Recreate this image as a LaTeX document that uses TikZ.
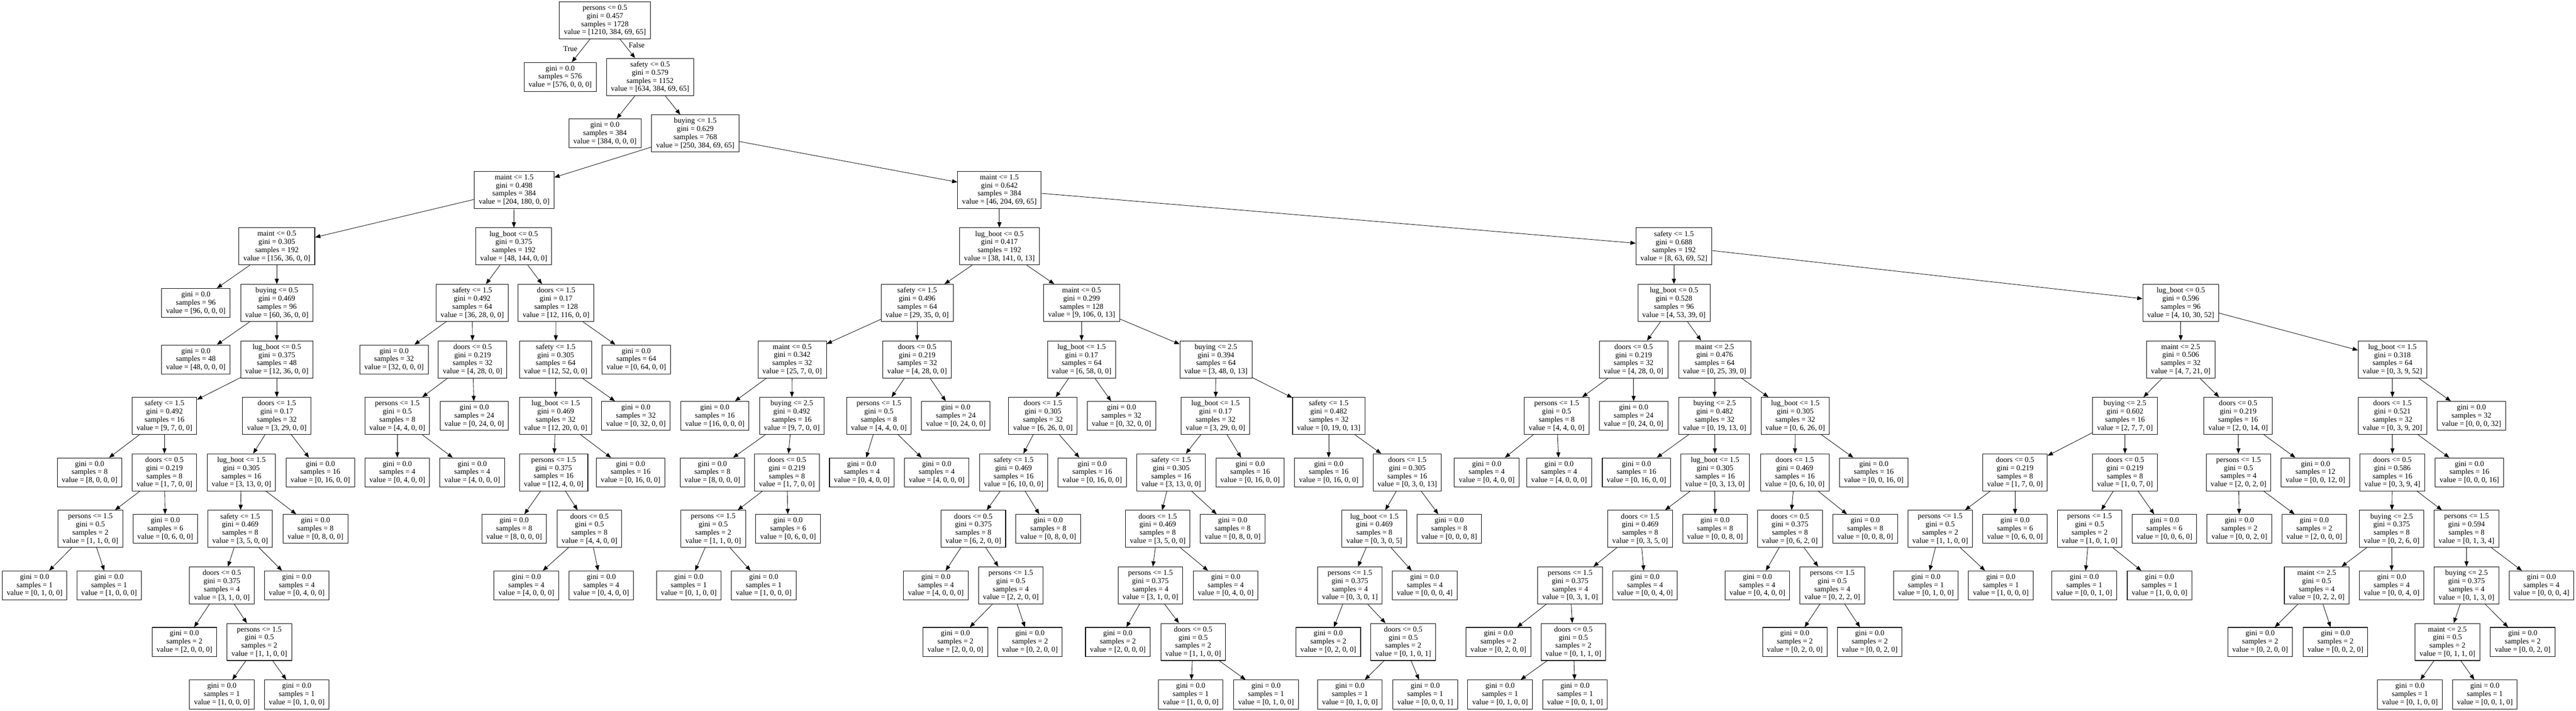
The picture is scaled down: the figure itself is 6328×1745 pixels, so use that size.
\documentclass[tikz,border=0pt]{standalone}
\usepackage{fontspec}
\setmainfont{Liberation Serif}
\usetikzlibrary{arrows.meta}
\newcommand{\SplitTxt}[4]{#1\\gini = #2\\samples = #3\\value = [#4]}
\newcommand{\LeafTxt}[2]{gini = 0.0\\samples = #1\\value = [#2]}
\def\yA{-50}
\def\yB{-188.7}
\def\yC{-327.4}
\def\yD{-466.1}
\def\yE{-604.8}
\def\yF{-743.5}
\def\yG{-882.2}
\def\yH{-1020.9}
\def\yI{-1159.6}
\def\yJ{-1298.3}
\def\yK{-1437}
\def\yL{-1575.7}
\def\yM{-1704.7}
\begin{document}
\begin{tikzpicture}[x=1pt,y=1pt,
  box/.style={draw=black, line width=1.3pt, rectangle, align=center, inner xsep=11pt, inner ysep=0pt,
    font=\fontsize{18.5}{20}\selectfont},
  split/.style={box, minimum height=91pt},
  leaf/.style={box, minimum height=71pt},
  edge/.style={draw=black, line width=1.05pt, -{Triangle[length=13pt,width=10pt]}},
  elabel/.style={font=\fontsize{18.5}{20}\selectfont, inner sep=0pt}]
\fill[white] (0,0) rectangle (6328,-1745);
\useasboundingbox (0,0) rectangle (6328,-1745);
\node[split] (n0) at (1486,\yA) {\SplitTxt{persons <= 0.5}{0.457}{1728}{1210, 384, 69, 65}};
\node[leaf] (n1) at (1376,\yB) {\LeafTxt{576}{576, 0, 0, 0}};
\node[split] (n2) at (1597,\yB) {\SplitTxt{safety <= 0.5}{0.579}{1152}{634, 384, 69, 65}};
\node[leaf] (n3) at (1486,\yC) {\LeafTxt{384}{384, 0, 0, 0}};
\node[split] (n4) at (1708,\yC) {\SplitTxt{buying <= 1.5}{0.629}{768}{250, 384, 69, 65}};
% subtree A
\node[split] (n5) at (1263,\yD) {\SplitTxt{maint <= 1.5}{0.498}{384}{204, 180, 0, 0}};
\node[split] (n6) at (680,\yE) {\SplitTxt{maint <= 0.5}{0.305}{192}{156, 36, 0, 0}};
\node[leaf] (n7) at (481,\yF) {\LeafTxt{96}{96, 0, 0, 0}};
\node[split] (n8) at (680,\yF) {\SplitTxt{buying <= 0.5}{0.469}{96}{60, 36, 0, 0}};
\node[leaf] (n9) at (481,\yG) {\LeafTxt{48}{48, 0, 0, 0}};
\node[split] (n10) at (680,\yG) {\SplitTxt{lug\_boot <= 0.5}{0.375}{48}{12, 36, 0, 0}};
\node[split] (n11) at (404,\yH) {\SplitTxt{safety <= 1.5}{0.492}{16}{9, 7, 0, 0}};
\node[leaf] (n12) at (220,\yI) {\LeafTxt{8}{8, 0, 0, 0}};
\node[split] (n13) at (404,\yI) {\SplitTxt{doors <= 0.5}{0.219}{8}{1, 7, 0, 0}};
\node[split] (n14) at (222,\yJ) {\SplitTxt{persons <= 1.5}{0.5}{2}{1, 1, 0, 0}};
\node[leaf] (n15) at (85,\yK) {\LeafTxt{1}{0, 1, 0, 0}};
\node[leaf] (n16) at (268,\yK) {\LeafTxt{1}{1, 0, 0, 0}};
\node[leaf] (n17) at (406,\yJ) {\LeafTxt{6}{0, 6, 0, 0}};
\node[split] (n18) at (680,\yH) {\SplitTxt{doors <= 1.5}{0.17}{32}{3, 29, 0, 0}};
\node[split] (n19) at (593,\yI) {\SplitTxt{lug\_boot <= 1.5}{0.305}{16}{3, 13, 0, 0}};
\node[split] (n20) at (590,\yJ) {\SplitTxt{safety <= 1.5}{0.469}{8}{3, 5, 0, 0}};
\node[split] (n21) at (545,\yK) {\SplitTxt{doors <= 0.5}{0.375}{4}{3, 1, 0, 0}};
\node[leaf] (n22) at (453,\yL) {\LeafTxt{2}{2, 0, 0, 0}};
\node[split] (n23) at (637,\yL) {\SplitTxt{persons <= 1.5}{0.5}{2}{1, 1, 0, 0}};
\node[leaf] (n24) at (545,\yM) {\LeafTxt{1}{1, 0, 0, 0}};
\node[leaf] (n25) at (729,\yM) {\LeafTxt{1}{0, 1, 0, 0}};
\node[leaf] (n26) at (729,\yK) {\LeafTxt{4}{0, 4, 0, 0}};
\node[leaf] (n27) at (775,\yJ) {\LeafTxt{8}{0, 8, 0, 0}};
\node[leaf] (n28) at (787,\yI) {\LeafTxt{16}{0, 16, 0, 0}};
\node[split] (n29) at (1262,\yE) {\SplitTxt{lug\_boot <= 0.5}{0.375}{192}{48, 144, 0, 0}};
\node[split] (n30) at (1160,\yF) {\SplitTxt{safety <= 1.5}{0.492}{64}{36, 28, 0, 0}};
\node[leaf] (n31) at (968,\yG) {\LeafTxt{32}{32, 0, 0, 0}};
\node[split] (n32) at (1161,\yG) {\SplitTxt{doors <= 0.5}{0.219}{32}{4, 28, 0, 0}};
\node[split] (n33) at (976,\yH) {\SplitTxt{persons <= 1.5}{0.5}{8}{4, 4, 0, 0}};
\node[leaf] (n34) at (976,\yI) {\LeafTxt{4}{0, 4, 0, 0}};
\node[leaf] (n35) at (1160,\yI) {\LeafTxt{4}{4, 0, 0, 0}};
\node[leaf] (n36) at (1165,\yH) {\LeafTxt{24}{0, 24, 0, 0}};
\node[split] (n37) at (1366,\yF) {\SplitTxt{doors <= 1.5}{0.17}{128}{12, 116, 0, 0}};
\node[split] (n38) at (1365,\yG) {\SplitTxt{safety <= 1.5}{0.305}{64}{12, 52, 0, 0}};
\node[split] (n39) at (1365,\yH) {\SplitTxt{lug\_boot <= 1.5}{0.469}{32}{12, 20, 0, 0}};
\node[split] (n40) at (1360,\yI) {\SplitTxt{persons <= 1.5}{0.375}{16}{12, 4, 0, 0}};
\node[leaf] (n41) at (1263,\yJ) {\LeafTxt{8}{8, 0, 0, 0}};
\node[split] (n42) at (1448,\yJ) {\SplitTxt{doors <= 0.5}{0.5}{8}{4, 4, 0, 0}};
\node[leaf] (n43) at (1293,\yK) {\LeafTxt{4}{4, 0, 0, 0}};
\node[leaf] (n44) at (1477,\yK) {\LeafTxt{4}{0, 4, 0, 0}};
\node[leaf] (n45) at (1549,\yI) {\LeafTxt{16}{0, 16, 0, 0}};
\node[leaf] (n46) at (1562,\yH) {\LeafTxt{32}{0, 32, 0, 0}};
\node[leaf] (n47) at (1563,\yG) {\LeafTxt{64}{0, 64, 0, 0}};
% subtree B
\node[split] (n48) at (2455,\yD) {\SplitTxt{maint <= 1.5}{0.642}{384}{46, 204, 69, 65}};
\node[split] (n49) at (2455,\yE) {\SplitTxt{lug\_boot <= 0.5}{0.417}{192}{38, 141, 0, 13}};
\node[split] (n50) at (2253,\yF) {\SplitTxt{safety <= 1.5}{0.496}{64}{29, 35, 0, 0}};
\node[split] (n51) at (1946,\yG) {\SplitTxt{maint <= 0.5}{0.342}{32}{25, 7, 0, 0}};
\node[leaf] (n52) at (1756,\yH) {\LeafTxt{16}{16, 0, 0, 0}};
\node[split] (n53) at (1945,\yH) {\SplitTxt{buying <= 2.5}{0.492}{16}{9, 7, 0, 0}};
\node[leaf] (n54) at (1750,\yI) {\LeafTxt{8}{8, 0, 0, 0}};
\node[split] (n55) at (1933,\yI) {\SplitTxt{doors <= 0.5}{0.219}{8}{1, 7, 0, 0}};
\node[split] (n56) at (1752,\yJ) {\SplitTxt{persons <= 1.5}{0.5}{2}{1, 1, 0, 0}};
\node[leaf] (n57) at (1692,\yK) {\LeafTxt{1}{0, 1, 0, 0}};
\node[leaf] (n58) at (1876,\yK) {\LeafTxt{1}{1, 0, 0, 0}};
\node[leaf] (n59) at (1936,\yJ) {\LeafTxt{6}{0, 6, 0, 0}};
\node[split] (n60) at (2253,\yG) {\SplitTxt{doors <= 0.5}{0.219}{32}{4, 28, 0, 0}};
\node[split] (n61) at (2159,\yH) {\SplitTxt{persons <= 1.5}{0.5}{8}{4, 4, 0, 0}};
\node[leaf] (n62) at (2117,\yI) {\LeafTxt{4}{0, 4, 0, 0}};
\node[leaf] (n63) at (2301,\yI) {\LeafTxt{4}{4, 0, 0, 0}};
\node[leaf] (n64) at (2348,\yH) {\LeafTxt{24}{0, 24, 0, 0}};
\node[split] (n65) at (2657,\yF) {\SplitTxt{maint <= 0.5}{0.299}{128}{9, 106, 0, 13}};
\node[split] (n66) at (2657,\yG) {\SplitTxt{lug\_boot <= 1.5}{0.17}{64}{6, 58, 0, 0}};
\node[split] (n67) at (2562,\yH) {\SplitTxt{doors <= 1.5}{0.305}{32}{6, 26, 0, 0}};
\node[split] (n68) at (2490,\yI) {\SplitTxt{safety <= 1.5}{0.469}{16}{6, 10, 0, 0}};
\node[split] (n69) at (2391,\yJ) {\SplitTxt{doors <= 0.5}{0.375}{8}{6, 2, 0, 0}};
\node[leaf] (n70) at (2299,\yK) {\LeafTxt{4}{4, 0, 0, 0}};
\node[split] (n71) at (2483,\yK) {\SplitTxt{persons <= 1.5}{0.5}{4}{2, 2, 0, 0}};
\node[leaf] (n72) at (2347,\yL) {\LeafTxt{2}{2, 0, 0, 0}};
\node[leaf] (n73) at (2530,\yL) {\LeafTxt{2}{0, 2, 0, 0}};
\node[leaf] (n74) at (2575,\yJ) {\LeafTxt{8}{0, 8, 0, 0}};
\node[leaf] (n75) at (2683,\yI) {\LeafTxt{16}{0, 16, 0, 0}};
\node[leaf] (n76) at (2755,\yH) {\LeafTxt{32}{0, 32, 0, 0}};
\node[split] (n77) at (2987,\yG) {\SplitTxt{buying <= 2.5}{0.394}{64}{3, 48, 0, 13}};
\node[split] (n78) at (2986,\yH) {\SplitTxt{lug\_boot <= 1.5}{0.17}{32}{3, 29, 0, 0}};
\node[split] (n79) at (2877,\yI) {\SplitTxt{safety <= 1.5}{0.305}{16}{3, 13, 0, 0}};
\node[split] (n80) at (2844,\yJ) {\SplitTxt{doors <= 1.5}{0.469}{8}{3, 5, 0, 0}};
\node[split] (n81) at (2826,\yK) {\SplitTxt{persons <= 1.5}{0.375}{4}{3, 1, 0, 0}};
\node[leaf] (n82) at (2746,\yL) {\LeafTxt{2}{2, 0, 0, 0}};
\node[split] (n83) at (2931,\yL) {\SplitTxt{doors <= 0.5}{0.5}{2}{1, 1, 0, 0}};
\node[leaf] (n84) at (2925,\yM) {\LeafTxt{1}{1, 0, 0, 0}};
\node[leaf] (n85) at (3110,\yM) {\LeafTxt{1}{0, 1, 0, 0}};
\node[leaf] (n86) at (3011,\yK) {\LeafTxt{4}{0, 4, 0, 0}};
\node[leaf] (n87) at (3028,\yJ) {\LeafTxt{8}{0, 8, 0, 0}};
\node[leaf] (n88) at (3071,\yI) {\LeafTxt{16}{0, 16, 0, 0}};
\node[split] (n89) at (3264,\yH) {\SplitTxt{safety <= 1.5}{0.482}{32}{0, 19, 0, 13}};
\node[leaf] (n90) at (3264,\yI) {\LeafTxt{16}{0, 16, 0, 0}};
\node[split] (n91) at (3457,\yI) {\SplitTxt{doors <= 1.5}{0.305}{16}{0, 3, 0, 13}};
\node[split] (n92) at (3376,\yJ) {\SplitTxt{lug\_boot <= 1.5}{0.469}{8}{0, 3, 0, 5}};
\node[split] (n93) at (3316,\yK) {\SplitTxt{persons <= 1.5}{0.375}{4}{0, 3, 0, 1}};
\node[leaf] (n94) at (3263,\yL) {\LeafTxt{2}{0, 2, 0, 0}};
\node[split] (n95) at (3447,\yL) {\SplitTxt{doors <= 0.5}{0.5}{2}{0, 1, 0, 1}};
\node[leaf] (n96) at (3316,\yM) {\LeafTxt{1}{0, 1, 0, 0}};
\node[leaf] (n97) at (3501,\yM) {\LeafTxt{1}{0, 0, 0, 1}};
\node[leaf] (n98) at (3500,\yK) {\LeafTxt{4}{0, 0, 0, 4}};
\node[leaf] (n99) at (3560,\yJ) {\LeafTxt{8}{0, 0, 0, 8}};
\node[split] (n100) at (4112,\yE) {\SplitTxt{safety <= 1.5}{0.688}{192}{8, 63, 69, 52}};
\node[split] (n101) at (4112,\yF) {\SplitTxt{lug\_boot <= 0.5}{0.528}{96}{4, 53, 39, 0}};
\node[split] (n102) at (4013,\yG) {\SplitTxt{doors <= 0.5}{0.219}{32}{4, 28, 0, 0}};
\node[split] (n103) at (3824,\yH) {\SplitTxt{persons <= 1.5}{0.5}{8}{4, 4, 0, 0}};
\node[leaf] (n104) at (3652,\yI) {\LeafTxt{4}{0, 4, 0, 0}};
\node[leaf] (n105) at (3830,\yI) {\LeafTxt{4}{4, 0, 0, 0}};
\node[leaf] (n106) at (4013,\yH) {\LeafTxt{24}{0, 24, 0, 0}};
\node[split] (n107) at (4212,\yG) {\SplitTxt{maint <= 2.5}{0.476}{64}{0, 25, 39, 0}};
\node[split] (n108) at (4212,\yH) {\SplitTxt{buying <= 2.5}{0.482}{32}{0, 19, 13, 0}};
\node[leaf] (n109) at (4020,\yI) {\LeafTxt{16}{0, 16, 0, 0}};
\node[split] (n110) at (4213,\yI) {\SplitTxt{lug\_boot <= 1.5}{0.305}{16}{0, 3, 13, 0}};
\node[split] (n111) at (4029,\yJ) {\SplitTxt{doors <= 1.5}{0.469}{8}{0, 3, 5, 0}};
\node[split] (n112) at (3857,\yK) {\SplitTxt{persons <= 1.5}{0.375}{4}{0, 3, 1, 0}};
\node[leaf] (n113) at (3681,\yL) {\LeafTxt{2}{0, 2, 0, 0}};
\node[split] (n114) at (3865,\yL) {\SplitTxt{doors <= 0.5}{0.5}{2}{0, 1, 1, 0}};
\node[leaf] (n115) at (3685,\yM) {\LeafTxt{1}{0, 1, 0, 0}};
\node[leaf] (n116) at (3869,\yM) {\LeafTxt{1}{0, 0, 1, 0}};
\node[leaf] (n117) at (4041,\yK) {\LeafTxt{4}{0, 0, 4, 0}};
\node[leaf] (n118) at (4213,\yJ) {\LeafTxt{8}{0, 0, 8, 0}};
\node[split] (n119) at (4410,\yH) {\SplitTxt{lug\_boot <= 1.5}{0.305}{32}{0, 6, 26, 0}};
\node[split] (n120) at (4409,\yI) {\SplitTxt{doors <= 1.5}{0.469}{16}{0, 6, 10, 0}};
\node[split] (n121) at (4397,\yJ) {\SplitTxt{doors <= 0.5}{0.375}{8}{0, 6, 2, 0}};
\node[leaf] (n122) at (4317,\yK) {\LeafTxt{4}{0, 4, 0, 0}};
\node[split] (n123) at (4501,\yK) {\SplitTxt{persons <= 1.5}{0.5}{4}{0, 2, 2, 0}};
\node[leaf] (n124) at (4409,\yL) {\LeafTxt{2}{0, 2, 0, 0}};
\node[leaf] (n125) at (4593,\yL) {\LeafTxt{2}{0, 0, 2, 0}};
\node[leaf] (n126) at (4582,\yJ) {\LeafTxt{8}{0, 0, 8, 0}};
\node[leaf] (n127) at (4603,\yI) {\LeafTxt{16}{0, 0, 16, 0}};
\node[split] (n128) at (5357,\yF) {\SplitTxt{lug\_boot <= 0.5}{0.596}{96}{4, 10, 30, 52}};
\node[split] (n129) at (5357,\yG) {\SplitTxt{maint <= 2.5}{0.506}{32}{4, 7, 21, 0}};
\node[split] (n130) at (5220,\yH) {\SplitTxt{buying <= 2.5}{0.602}{16}{2, 7, 7, 0}};
\node[split] (n131) at (4950,\yI) {\SplitTxt{doors <= 0.5}{0.219}{8}{1, 7, 0, 0}};
\node[split] (n132) at (4766,\yJ) {\SplitTxt{persons <= 1.5}{0.5}{2}{1, 1, 0, 0}};
\node[leaf] (n133) at (4731,\yK) {\LeafTxt{1}{0, 1, 0, 0}};
\node[leaf] (n134) at (4915,\yK) {\LeafTxt{1}{1, 0, 0, 0}};
\node[leaf] (n135) at (4950,\yJ) {\LeafTxt{6}{0, 6, 0, 0}};
\node[split] (n136) at (5220,\yI) {\SplitTxt{doors <= 0.5}{0.219}{8}{1, 0, 7, 0}};
\node[split] (n137) at (5133,\yJ) {\SplitTxt{persons <= 1.5}{0.5}{2}{1, 0, 1, 0}};
\node[leaf] (n138) at (5120,\yK) {\LeafTxt{1}{0, 0, 1, 0}};
\node[leaf] (n139) at (5305,\yK) {\LeafTxt{1}{1, 0, 0, 0}};
\node[leaf] (n140) at (5317,\yJ) {\LeafTxt{6}{0, 0, 6, 0}};
\node[split] (n141) at (5498,\yH) {\SplitTxt{doors <= 0.5}{0.219}{16}{2, 0, 14, 0}};
\node[split] (n142) at (5499,\yI) {\SplitTxt{persons <= 1.5}{0.5}{4}{2, 0, 2, 0}};
\node[leaf] (n143) at (5501,\yJ) {\LeafTxt{2}{0, 0, 2, 0}};
\node[leaf] (n144) at (5685,\yJ) {\LeafTxt{2}{2, 0, 0, 0}};
\node[leaf] (n145) at (5688,\yI) {\LeafTxt{12}{0, 0, 12, 0}};
\node[split] (n146) at (5877,\yG) {\SplitTxt{lug\_boot <= 1.5}{0.318}{64}{0, 3, 9, 52}};
\node[split] (n147) at (5877,\yH) {\SplitTxt{doors <= 1.5}{0.521}{32}{0, 3, 9, 20}};
\node[split] (n148) at (5877,\yI) {\SplitTxt{doors <= 0.5}{0.586}{16}{0, 3, 9, 4}};
\node[split] (n149) at (5875,\yJ) {\SplitTxt{buying <= 2.5}{0.375}{8}{0, 2, 6, 0}};
\node[split] (n150) at (5691,\yK) {\SplitTxt{maint <= 2.5}{0.5}{4}{0, 2, 2, 0}};
\node[leaf] (n151) at (5552,\yL) {\LeafTxt{2}{0, 2, 0, 0}};
\node[leaf] (n152) at (5737,\yL) {\LeafTxt{2}{0, 0, 2, 0}};
\node[leaf] (n153) at (5875,\yK) {\LeafTxt{4}{0, 0, 4, 0}};
\node[split] (n154) at (6059,\yJ) {\SplitTxt{persons <= 1.5}{0.594}{8}{0, 1, 3, 4}};
\node[split] (n155) at (6059,\yK) {\SplitTxt{buying <= 2.5}{0.375}{4}{0, 1, 3, 0}};
\node[split] (n156) at (6012,\yL) {\SplitTxt{maint <= 2.5}{0.5}{2}{0, 1, 1, 0}};
\node[leaf] (n157) at (5920,\yM) {\LeafTxt{1}{0, 1, 0, 0}};
\node[leaf] (n158) at (6104,\yM) {\LeafTxt{1}{0, 0, 1, 0}};
\node[leaf] (n159) at (6197,\yL) {\LeafTxt{2}{0, 0, 2, 0}};
\node[leaf] (n160) at (6243,\yK) {\LeafTxt{4}{0, 0, 0, 4}};
\node[leaf] (n161) at (6066,\yI) {\LeafTxt{16}{0, 0, 0, 16}};
\node[leaf] (n162) at (6071,\yH) {\LeafTxt{32}{0, 0, 0, 32}};
% edges
\foreach \p/\c in {n0/n1,n0/n2,n2/n3,n2/n4,n4/n5,n5/n6,n6/n7,n6/n8,n8/n9,n8/n10,
  n10/n11,n11/n12,n11/n13,n13/n14,n14/n15,n14/n16,n13/n17,n10/n18,n18/n19,n19/n20,
  n20/n21,n21/n22,n21/n23,n23/n24,n23/n25,n20/n26,n19/n27,n18/n28,n5/n29,n29/n30,
  n30/n31,n30/n32,n32/n33,n33/n34,n33/n35,n32/n36,n29/n37,n37/n38,n38/n39,n39/n40,
  n40/n41,n40/n42,n42/n43,n42/n44,n39/n45,n38/n46,n37/n47,n4/n48,n48/n49,n49/n50,
  n50/n51,n51/n52,n51/n53,n53/n54,n53/n55,n55/n56,n56/n57,n56/n58,n55/n59,n50/n60,
  n60/n61,n61/n62,n61/n63,n60/n64,n49/n65,n65/n66,n66/n67,n67/n68,n68/n69,n69/n70,
  n69/n71,n71/n72,n71/n73,n68/n74,n67/n75,n66/n76,n65/n77,n77/n78,n78/n79,n79/n80,
  n80/n81,n81/n82,n81/n83,n83/n84,n83/n85,n80/n86,n79/n87,n78/n88,n77/n89,n89/n90,
  n89/n91,n91/n92,n92/n93,n93/n94,n93/n95,n95/n96,n95/n97,n92/n98,n91/n99,n48/n100,
  n100/n101,n101/n102,n102/n103,n103/n104,n103/n105,n102/n106,n101/n107,n107/n108,
  n108/n109,n108/n110,n110/n111,n111/n112,n112/n113,n112/n114,n114/n115,n114/n116,
  n111/n117,n110/n118,n107/n119,n119/n120,n120/n121,n121/n122,n121/n123,n123/n124,
  n123/n125,n120/n126,n119/n127,n100/n128,n128/n129,n129/n130,n130/n131,n131/n132,
  n132/n133,n132/n134,n131/n135,n130/n136,n136/n137,n137/n138,n137/n139,n136/n140,
  n129/n141,n141/n142,n142/n143,n142/n144,n141/n145,n128/n146,n146/n147,n147/n148,
  n148/n149,n149/n150,n150/n151,n150/n152,n149/n153,n148/n154,n154/n155,n155/n156,
  n156/n157,n156/n158,n155/n159,n154/n160,n147/n161,n146/n162}
  \draw[edge] (\p) -- (\c);
\node[elabel] (lt) at (1401,-120) {True};
\node[elabel] (lf) at (1564,-111) {False};
\end{tikzpicture}
\end{document}
